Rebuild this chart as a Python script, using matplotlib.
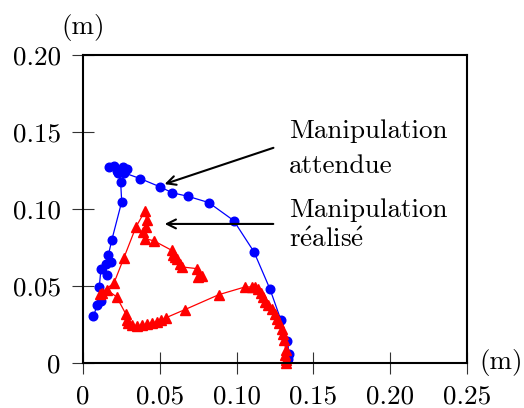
import matplotlib
matplotlib.use("Agg")
import matplotlib.pyplot as plt

plt.rcParams['font.family'] = ['cmr10', 'DejaVu Serif']
plt.rcParams['mathtext.fontset'] = 'cm'
plt.rcParams['axes.unicode_minus'] = False

# trajectoire attendue (m)
x_att = [0.0067, 0.0093, 0.0117, 0.0106, 0.0117, 0.0154, 0.0150, 0.0180, 0.0165,
         0.0187, 0.0252, 0.0245, 0.0230, 0.0202, 0.0171, 0.0219, 0.0258, 0.0284,
         0.0267, 0.0371, 0.0501, 0.0582, 0.0681, 0.0818, 0.0981, 0.1113, 0.1217,
         0.1289, 0.1330, 0.1343, 0.1337]
y_att = [0.0303, 0.0375, 0.0400, 0.0494, 0.0613, 0.0570, 0.0646, 0.0657, 0.0700,
         0.0797, 0.1047, 0.1177, 0.1231, 0.1280, 0.1274, 0.1248, 0.1274, 0.1257,
         0.1235, 0.1198, 0.1144, 0.1105, 0.1083, 0.1042, 0.0925, 0.0722, 0.0481,
         0.0277, 0.0143, 0.0056, 0.0028]

# trajectoire realisee (m)
x_real = [0.1320, 0.1320, 0.1315, 0.1320, 0.1310, 0.1300, 0.1293, 0.1278, 0.1260,
          0.1250, 0.1228, 0.1207, 0.1185, 0.1170, 0.1157, 0.1141, 0.1120, 0.1098,
          0.1055, 0.0885, 0.0664, 0.0538, 0.0508, 0.0480, 0.0447, 0.0414, 0.0382,
          0.0350, 0.0317, 0.0295, 0.0284, 0.0280, 0.0219, 0.0154, 0.0122, 0.0110,
          0.0202, 0.0267, 0.0345, 0.0404, 0.0414, 0.0408, 0.0393, 0.0404, 0.0462,
          0.0577, 0.0588, 0.0600, 0.0610, 0.0632, 0.0642, 0.0740, 0.0773, 0.0751]
y_real = [0.0000, 0.0017, 0.0050, 0.0082, 0.0147, 0.0190, 0.0223, 0.0260, 0.0288,
          0.0320, 0.0353, 0.0375, 0.0397, 0.0429, 0.0455, 0.0483, 0.0494, 0.0494,
          0.0494, 0.0444, 0.0347, 0.0293, 0.0277, 0.0267, 0.0260, 0.0251, 0.0245,
          0.0240, 0.0245, 0.0260, 0.0277, 0.0316, 0.0429, 0.0477, 0.0457, 0.0450,
          0.0520, 0.0685, 0.0884, 0.0988, 0.0927, 0.0884, 0.0852, 0.0808, 0.0793,
          0.0732, 0.0700, 0.0690, 0.0678, 0.0646, 0.0624, 0.0613, 0.0563, 0.0559]

xticks = [0, 0.05, 0.10, 0.15, 0.20, 0.25]
xlabels = ['0', '0.05', '0.10', '0.15', '0.20', '0.25']
yticks = [0, 0.05, 0.10, 0.15, 0.20]
ylabels = ['0', '0.05', '0.10', '0.15', '0.20']

fig = plt.figure(figsize=(5.24, 4.08), dpi=100)
ax = fig.add_axes([0.1584, 0.1103, 0.7328, 0.7549])

ax.plot(x_att, y_att, color='#0000ff', lw=0.9, marker='o', ms=6.2, clip_on=False)
ax.plot(x_real, y_real, color='#ff0000', lw=0.9, marker='^', ms=7, clip_on=False)

ax.set_xlim(0, 0.25)
ax.set_ylim(0, 0.20)
ax.set_xticks(xticks)
ax.set_xticklabels(xlabels)
ax.set_yticks(yticks)
ax.set_yticklabels(ylabels)
ax.tick_params(direction='inout', length=16, width=0.8, color='#333333',
               labelsize=19.5, pad=8, top=False, right=False)
for s in ax.spines.values():
    s.set_linewidth(1.5)

ax.text(0, 1.09, '(m)', transform=ax.transAxes, ha='center', va='center', fontsize=19.5)
ax.text(1.089, 0, '(m)', transform=ax.transAxes, ha='center', va='center', fontsize=19.5)

ax.annotate('', xy=(0.0514, 0.1156), xytext=(0.1257, 0.1403),
            arrowprops=dict(arrowstyle='->', color='black', lw=1.5, mutation_scale=16))
ax.annotate('', xy=(0.0514, 0.0903), xytext=(0.1257, 0.0903),
            arrowprops=dict(arrowstyle='->', color='black', lw=1.5, mutation_scale=16))

ax.text(0.134, 0.1461, 'Manipulation', ha='left', va='baseline', fontsize=19.5)
ax.text(0.134, 0.1234, 'attendue', ha='left', va='baseline', fontsize=19.5)
ax.text(0.134, 0.0948, 'Manipulation', ha='left', va='baseline', fontsize=19.5)
ax.text(0.134, 0.0753, r'r$\acute{\mathrm{e}}$alis$\acute{\mathrm{e}}$',
        ha='left', va='baseline', fontsize=19.5)

fig.savefig('out.png', dpi=100)
